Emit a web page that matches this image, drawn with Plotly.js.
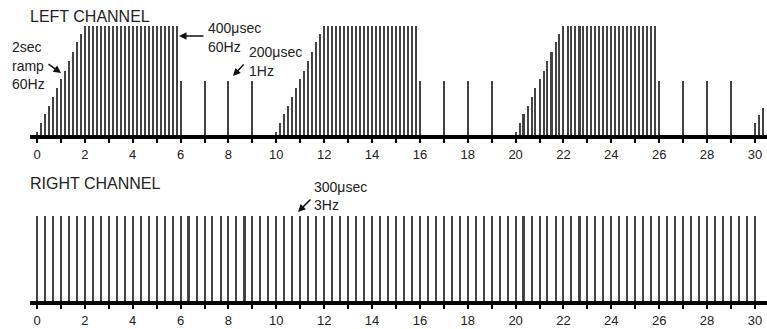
<!DOCTYPE html>
<html>
<head>
<meta charset="utf-8">
<script src="https://cdn.plot.ly/plotly-3.0.1.min.js"></script>
<style>html,body{margin:0;padding:0;background:#fff;}#chart{width:767px;height:329px;}</style>
</head>
<body>
<div id="chart"></div>
<script>
// Left channel pulse times (s) and relative amplitudes
const leftX = [
  0,0.17,0.33,0.5,0.67,0.83,1,1.17,1.33,1.5,1.67,1.83,
  2,2.17,2.33,2.5,2.67,2.83,3,3.17,3.33,3.5,3.67,3.83,4,4.17,4.33,4.5,4.67,4.83,5,5.17,5.33,5.5,5.67,5.83,
  6,7,8,9,
  10,10.17,10.33,10.5,10.67,10.83,11,11.17,11.33,11.5,11.67,11.83,
  12,12.17,12.33,12.5,12.67,12.83,13,13.17,13.33,13.5,13.67,13.83,14,14.17,14.33,14.5,14.67,14.83,15,15.17,15.33,15.5,15.67,15.83,
  16,17,18,19,
  20,20.17,20.33,20.5,20.67,20.83,21,21.17,21.33,21.5,21.67,21.83,
  22,22.17,22.33,22.5,22.67,22.83,23,23.17,23.33,23.5,23.67,23.83,24,24.17,24.33,24.5,24.67,24.83,25,25.17,25.33,25.5,25.67,25.83,
  26,27,28,29,
  30,30.17,30.33
];
const leftY = [
  0.03,0.11,0.19,0.27,0.35,0.43,0.51,0.59,0.68,0.76,0.85,0.93,
  1,1,1,1,1,1,1,1,1,1,1,1,1,1,1,1,1,1,1,1,1,1,1,1,
  0.5,0.5,0.5,0.5,
  0.03,0.11,0.19,0.27,0.35,0.43,0.51,0.59,0.68,0.76,0.85,0.93,
  1,1,1,1,1,1,1,1,1,1,1,1,1,1,1,1,1,1,1,1,1,1,1,1,
  0.5,0.5,0.5,0.5,
  0.03,0.11,0.19,0.27,0.35,0.43,0.51,0.59,0.68,0.76,0.85,0.93,
  1,1,1,1,1,1,1,1,1,1,1,1,1,1,1,1,1,1,1,1,1,1,1,1,
  0.5,0.5,0.5,0.5,
  0.11,0.18,0.25
];
// Right channel pulse times (s), 3Hz, constant amplitude
const rightX = [
  0,0.33,0.67,1,1.33,1.67,2,2.33,2.67,3,3.33,3.67,4,4.33,4.67,5,5.33,5.67,
  6,6.33,6.67,7,7.33,7.67,8,8.33,8.67,9,9.33,9.67,10,10.33,10.67,11,11.33,11.67,
  12,12.33,12.67,13,13.33,13.67,14,14.33,14.67,15,15.33,15.67,16,16.33,16.67,17,17.33,17.67,
  18,18.33,18.67,19,19.33,19.67,20,20.33,20.67,21,21.33,21.67,22,22.33,22.67,23,23.33,23.67,
  24,24.33,24.67,25,25.33,25.67,26,26.33,26.67,27,27.33,27.67,28,28.33,28.67,29,29.33,29.67,
  30
];
const rightY = [
  1,1,1,1,1,1,1,1,1,1,1,1,1,1,1,1,1,1,
  1,1,1,1,1,1,1,1,1,1,1,1,1,1,1,1,1,1,
  1,1,1,1,1,1,1,1,1,1,1,1,1,1,1,1,1,1,
  1,1,1,1,1,1,1,1,1,1,1,1,1,1,1,1,1,1,
  1,1,1,1,1,1,1,1,1,1,1,1,1,1,1,1,1,1,
  1
];
const tickVals = [0,1,2,3,4,5,6,7,8,9,10,11,12,13,14,15,16,17,18,19,20,21,22,23,24,25,26,27,28,29,30];
const tickText = ['0','','2','','4','','6','','8','','10','','12','','14','','16','','18','','20','','22','','24','','26','','28','','30'];

const W = 767, H = 329;
const FONT = 'Liberation Sans, Arial, sans-serif';
const px = v => v / W;
const py = v => 1 - v / H;

const barStyle = {color: '#444', line: {width: 0}};
const traces = [
  {type: 'bar', x: leftX, y: leftY, width: 0.085, marker: barStyle, xaxis: 'x', yaxis: 'y', hoverinfo: 'skip'},
  {type: 'bar', x: rightX, y: rightY, width: 0.085, marker: barStyle, xaxis: 'x2', yaxis: 'y2', hoverinfo: 'skip'}
];

function xAxis(anchor) {
  return {
    domain: [px(30), 1], range: [-0.293, 30.505], anchor: anchor,
    showgrid: false, zeroline: false,
    showline: true, linewidth: 4, linecolor: '#000',
    ticks: 'outside', ticklen: 4, tickwidth: 2, tickcolor: '#000',
    tickmode: 'array', tickvals: tickVals, ticktext: tickText,
    tickfont: {family: FONT, size: 13, color: '#222'}
  };
}
function yAxis(bottomPx, topPx) {
  return {domain: [py(bottomPx), py(topPx)], range: [0, 1.05], visible: false, fixedrange: true};
}

function label(text, xPx, yPx, size) {
  return {text: text, xref: 'paper', yref: 'paper', x: px(xPx), y: py(yPx),
    xanchor: 'left', yanchor: 'middle', showarrow: false,
    font: {family: FONT, size: size || 14, color: '#222'}};
}
function arrow(tailX, tailY, headX, headY) {
  return {text: '', xref: 'paper', yref: 'paper', x: px(headX), y: py(headY),
    ax: tailX - headX, ay: tailY - headY, axref: 'pixel', ayref: 'pixel',
    showarrow: true, arrowhead: 2, arrowsize: 1, arrowwidth: 1.5, arrowcolor: '#111'};
}

const layout = {
  width: W, height: H,
  margin: {l: 0, r: 0, t: 0, b: 0},
  paper_bgcolor: '#fff', plot_bgcolor: '#fff',
  showlegend: false, bargap: 0,
  xaxis: xAxis('y'),
  yaxis: yAxis(135, 135 - 1.05 * 109),
  xaxis2: xAxis('y2'),
  yaxis2: yAxis(301, 301 - 1.05 * 85.5),
  annotations: [
    label('LEFT CHANNEL', 28, 16, 16),
    label('2sec', 10, 47), label('ramp', 10, 66), label('60Hz', 10, 84),
    label('400μsec', 206, 28), label('60Hz', 206, 47),
    label('200μsec', 247, 52), label('1Hz', 247, 71),
    label('RIGHT CHANNEL', 28, 183, 16),
    label('300μsec', 312, 187), label('3Hz', 312, 205),
    arrow(47, 63, 61, 73),
    arrow(205, 36, 179, 36),
    arrow(245, 63, 233, 76),
    arrow(312, 198, 298, 212)
  ]
};

Plotly.newPlot('chart', traces, layout, {staticPlot: true, displayModeBar: false});
</script>
</body>
</html>
